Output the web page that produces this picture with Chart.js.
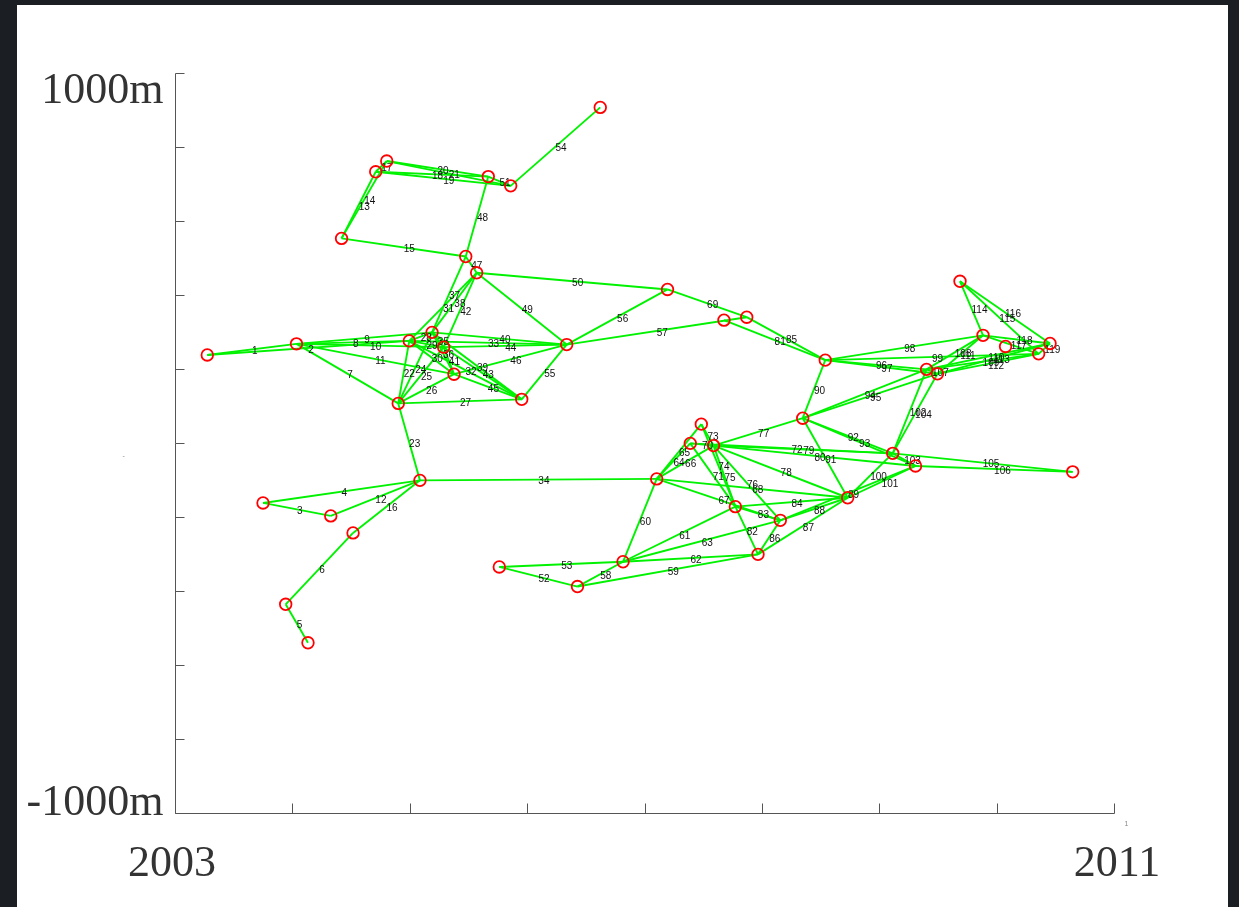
<!DOCTYPE html>
<html>
<head>
<meta charset="utf-8">
<script src="https://cdn.jsdelivr.net/npm/chart.js@4.4.0/dist/chart.umd.min.js"></script>
<style>
  html, body { margin: 0; padding: 0; background: #1b1f23; }
  #frame { position: absolute; left: 17px; top: 5px; width: 1211px; height: 902px; background: #fff; }
  canvas { display: block; }
</style>
</head>
<body>
<div id="frame"><canvas id="net" width="1211" height="902"></canvas></div>
<script>
// stations: name, time (year) and level (m)
const nodeNames = ['A','S','V','B','W','T','L','U','M','N',
  'G','C','R','D','E','F','J','K','O','AL',
  'P','H','I','AM','Q','AK','AF','X','AD','AC',
  'AE','Y','AG','Z','AJ','AH','AB','AA','AI','AN',
  'AO','AQ','AR','AS','AT','AU','AV','AW','AP'];
const nodeYear = [2003.275,2003.750,2003.943,2004.035,2004.133,2004.327,2004.419,2004.517,2004.710,2004.804,
  2004.902,2004.996,2005.087,2005.190,2005.289,2005.377,2005.477,2005.570,2005.669,2005.763,
  2005.860,2005.954,2006.337,2006.429,2006.623,2006.817,2007.104,2007.196,2007.390,2007.484,
  2007.588,2007.677,2007.774,2007.871,2007.967,2008.157,2008.348,2008.540,2008.731,2009.115,
  2009.309,2009.403,2009.496,2009.688,2009.884,2010.076,2010.358,2010.455,2010.648];
const nodeLevel = [238,-162,-436,268,-540,-197,553,-243,733,762,
  107,276,-101,299,259,186,504,460,720,-335,
  695,118,266,-388,907,-321,-97,415,-1,51,
  -7,332,-172,340,-301,-209,67,224,-148,-28,
  -62,199,187,437,291,261,241,269,-78];

// links between stations, in label order
const edgePairs = ['A-B','A-C','S-T','S-R','V-W','U-V','B-G','B-C','B-D','B-E',
  'B-F','T-R','L-M','L-N','L-J','U-R','M-N','M-O','M-P','N-O',
  'N-P','G-C','G-R','G-D','G-E','G-F','G-H','C-D','C-E','C-F',
  'C-K','C-H','C-I','R-AF','D-E','D-F','D-J','D-K','D-H','D-I',
  'E-F','E-K','E-H','E-I','F-H','F-I','J-K','J-O','K-I','K-X',
  'O-P','AL-AM','AL-AK','P-Q','H-I','I-X','I-Z','AM-AK','AM-AJ','AK-AF',
  'AK-AG','AK-AJ','AK-AH','AF-AD','AF-AC','AF-AE','AF-AH','AF-AI','X-Z','AD-AE',
  'AD-AG','AD-AN','AC-AE','AC-AG','AE-AG','AE-AH','AE-AB','AE-AI','AE-AN','AE-AO',
  'Y-AA','AG-AJ','AG-AH','AG-AI','Z-AA','AJ-AH','AJ-AI','AH-AI','AH-AO','AB-AA',
  'AB-AI','AB-AN','AB-AO','AB-AQ','AB-AR','AA-AQ','AA-AR','AA-AT','AA-AV','AI-AN',
  'AI-AO','AN-AQ','AN-AO','AN-AR','AN-AP','AO-AP','AQ-AR','AQ-AT','AQ-AV','AQ-AW',
  'AR-AT','AR-AV','AR-AW','AS-AT','AS-AV','AS-AW','AT-AV','AT-AW','AV-AW'];
const edgeLabels = [1,2,3,4,5,6,7,8,9,10,11,12,13,14,15,16,17,18,19,20,
  21,22,23,24,25,26,27,28,29,30,31,32,33,34,35,36,37,38,39,40,
  41,42,43,44,45,46,47,48,49,50,51,52,53,54,55,56,57,58,59,60,
  61,62,63,64,65,66,67,68,69,70,71,72,73,74,75,76,77,78,79,80,
  81,82,83,84,85,86,87,88,89,90,91,92,93,94,95,96,97,98,99,100,
  101,102,103,104,105,106,107,108,109,110,111,112,113,114,115,116,117,118,119];

// axes
const xTicks = [2003,2004,2005,2006,2007,2008,2009,2010,2011];
const yTicks = [1000,800,600,400,200,0,-200,-400,-600,-800,-1000];
const xTickLabels = ['2003','2011'];
const xTickLabelAt = [2003,2011];
const yTickLabels = ['1000m','-1000m'];
const yTickLabelAt = [1000,-1000];

const idx = {};
nodeNames.forEach((n, i) => { idx[n] = i; });
const pt = i => ({ x: nodeYear[i], y: nodeLevel[i] });

const datasets = edgePairs.map(p => {
  const [a, b] = p.split('-');
  return {
    data: [pt(idx[a]), pt(idx[b])],
    showLine: true,
    borderColor: '#00f200',
    borderWidth: 1.9,
    pointRadius: 0,
    order: 1,
    clip: false
  };
});
const nodeDatasetIndex = datasets.length;
datasets.push({
  data: nodeNames.map((n, i) => pt(i)),
  showLine: false,
  pointRadius: 5.8,
  pointBorderWidth: 1.8,
  pointBorderColor: '#ff0000',
  pointBackgroundColor: 'rgba(0,0,0,0)',
  order: 0,
  clip: false
});

const netDecor = {
  id: 'netDecor',
  beforeDatasetDraw(chart, args) {
    if (args.index !== nodeDatasetIndex) return;
    const { ctx } = chart;
    const x = chart.scales.x, y = chart.scales.y;
    ctx.save();
    ctx.font = '10px "Liberation Sans", Arial, sans-serif';
    ctx.fillStyle = '#111';
    ctx.textAlign = 'left';
    ctx.textBaseline = 'middle';
    edgePairs.forEach((p, i) => {
      const [a, b] = p.split('-').map(n => idx[n]);
      const mx = (x.getPixelForValue(nodeYear[a]) + x.getPixelForValue(nodeYear[b])) / 2;
      const my = (y.getPixelForValue(nodeLevel[a]) + y.getPixelForValue(nodeLevel[b])) / 2;
      ctx.fillText(String(edgeLabels[i]), mx, my + 2);
    });
    ctx.restore();
  },
  afterDraw(chart) {
    const { ctx } = chart;
    const x = chart.scales.x, y = chart.scales.y;
    const x0 = Math.round(x.getPixelForValue(2003)) + 0.5;
    const x1 = Math.round(x.getPixelForValue(2011)) + 0.5;
    const yTop = Math.round(y.getPixelForValue(1000)) + 0.5;
    const yBot = Math.round(y.getPixelForValue(-1000)) + 0.5;
    ctx.save();
    ctx.strokeStyle = '#555';
    ctx.lineWidth = 1;
    ctx.beginPath();
    ctx.moveTo(x0, yTop); ctx.lineTo(x0, yBot); ctx.lineTo(x1, yBot);
    yTicks.forEach(v => {
      const py = Math.round(y.getPixelForValue(v)) + 0.5;
      ctx.moveTo(x0, py); ctx.lineTo(x0 + 9, py);
    });
    xTicks.forEach(v => {
      const px = Math.round(x.getPixelForValue(v)) + 0.5;
      ctx.moveTo(px, yBot); ctx.lineTo(px, yBot - 10);
    });
    ctx.stroke();

    ctx.fillStyle = '#333';
    ctx.font = '44px "Liberation Serif", "Times New Roman", serif';
    ctx.textAlign = 'right';
    ctx.textBaseline = 'alphabetic';
    ctx.fillText(yTickLabels[0], x0 - 12, y.getPixelForValue(yTickLabelAt[0]) + 30);
    ctx.fillText(yTickLabels[1], x0 - 12, y.getPixelForValue(yTickLabelAt[1]) + 2);
    ctx.textAlign = 'center';
    const xShift = [-3, 3];
    xTickLabels.forEach((t, i) => {
      ctx.fillText(t, x.getPixelForValue(xTickLabelAt[i]) + xShift[i], yBot + 62);
    });

    ctx.fillStyle = '#888';
    ctx.font = '7px "Liberation Sans", Arial, sans-serif';
    ctx.textAlign = 'left';
    ctx.fillText('1', x1 + 10, yBot + 12);
    ctx.fillText('-', x0 - 53, y.getPixelForValue(0) + 15);
    ctx.restore();
  }
};

new Chart(document.getElementById('net'), {
  type: 'scatter',
  data: { datasets },
  options: {
    responsive: false,
    animation: false,
    layout: { padding: { left: 158, top: 68, right: 114, bottom: 94 } },
    scales: {
      x: { type: 'linear', min: 2003, max: 2011, display: false },
      y: { type: 'linear', min: -1000, max: 1000, display: false }
    },
    plugins: { legend: { display: false }, tooltip: { enabled: false } }
  },
  plugins: [netDecor]
});
</script>
</body>
</html>
